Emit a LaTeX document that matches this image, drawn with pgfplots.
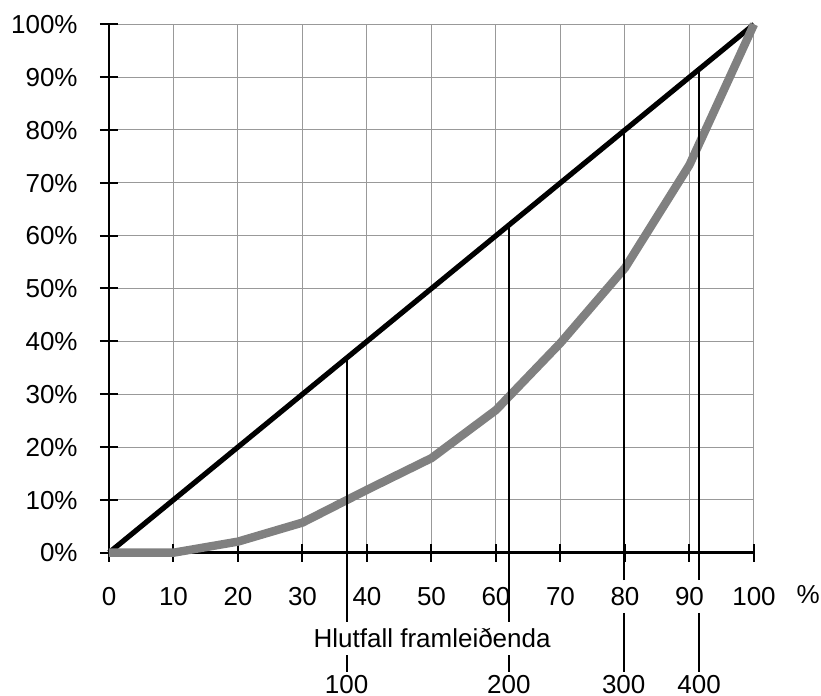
\documentclass[border=0pt]{standalone}
\usepackage{fontspec}
\setmainfont{Liberation Sans}
\usepackage{pgfplots}
\pgfplotsset{compat=1.18}
\newcommand\cf{\fontsize{13}{15.5}\selectfont}
\begin{document}
\begin{tikzpicture}
\path[use as bounding box] (-54.5pt,-71.65pt) rectangle (356pt,276.35pt);
\begin{axis}[
    at={(0pt,0pt)}, anchor=south west,
    scale only axis, width=322.5pt, height=264.2pt,
    xmin=0, xmax=100, ymin=0, ymax=100,
    axis lines=left, axis line style={-, line width=1.3pt},
    clip=false,
    grid=major, major grid style={black!40, line width=0.5pt},
    tick align=center, major tick length=9pt,
    tick style={black, line width=1pt},
    xtick={0,10,...,100}, ytick={0,10,...,100},
    xticklabels={0,10,20,30,40,50,60,70,80,90,100},
    yticklabels={0\%,10\%,20\%,30\%,40\%,50\%,60\%,70\%,80\%,90\%,100\%},
    tick label style={font=\cf},
    xticklabel style={anchor=base, inner sep=0pt, yshift=-22pt},
    yticklabel style={anchor=base east, inner sep=0pt, xshift=-11pt, yshift=-4.6pt},
  ]
  % equality line
  \addplot[black, line width=2.6pt] coordinates {(0,0) (100,100)};
  % Lorenz curve
  \addplot[black!50, line width=4.2pt] coordinates {
    (0,0) (10,0) (20,2.1) (30,5.7) (40,11.9) (50,17.9)
    (60,27.0) (70,39.7) (80,53.9) (90,73.4) (100,100)
  };
  % producer markers
  \addplot[black, line width=1pt] coordinates {(36.85,-13.1) (36.85,36.85)};
  \addplot[black, line width=1pt] coordinates {(36.85,-19.4) (36.85,-22.6)};
  \addplot[black, line width=1pt] coordinates {(62.0,-13.1) (62.0,62.0)};
  \addplot[black, line width=1pt] coordinates {(62.0,-19.4) (62.0,-22.6)};
  \addplot[black, line width=1pt] coordinates {(79.8,-5.2) (79.8,79.8)};
  \addplot[black, line width=1pt] coordinates {(79.8,-11.4) (79.8,-22.6)};
  \addplot[black, line width=1pt] coordinates {(91.5,-5.2) (91.5,91.5)};
  \addplot[black, line width=1pt] coordinates {(91.5,-11.4) (91.5,-22.6)};

  \node[font=\cf, anchor=base, inner sep=0pt, yshift=-25.6pt] at (axis cs:108.4,0) {\%};
  \node[font=\cf, anchor=base, inner sep=0pt] at (axis cs:50.1,-17.9) {Hlutfall framleiðenda};
  \node[font=\cf, anchor=base, inner sep=0pt] at (axis cs:36.85,-26.6) {100};
  \node[font=\cf, anchor=base, inner sep=0pt] at (axis cs:62.0,-26.6) {200};
  \node[font=\cf, anchor=base, inner sep=0pt] at (axis cs:79.8,-26.6) {300};
  \node[font=\cf, anchor=base, inner sep=0pt] at (axis cs:91.5,-26.6) {400};
\end{axis}
\end{tikzpicture}
\end{document}
